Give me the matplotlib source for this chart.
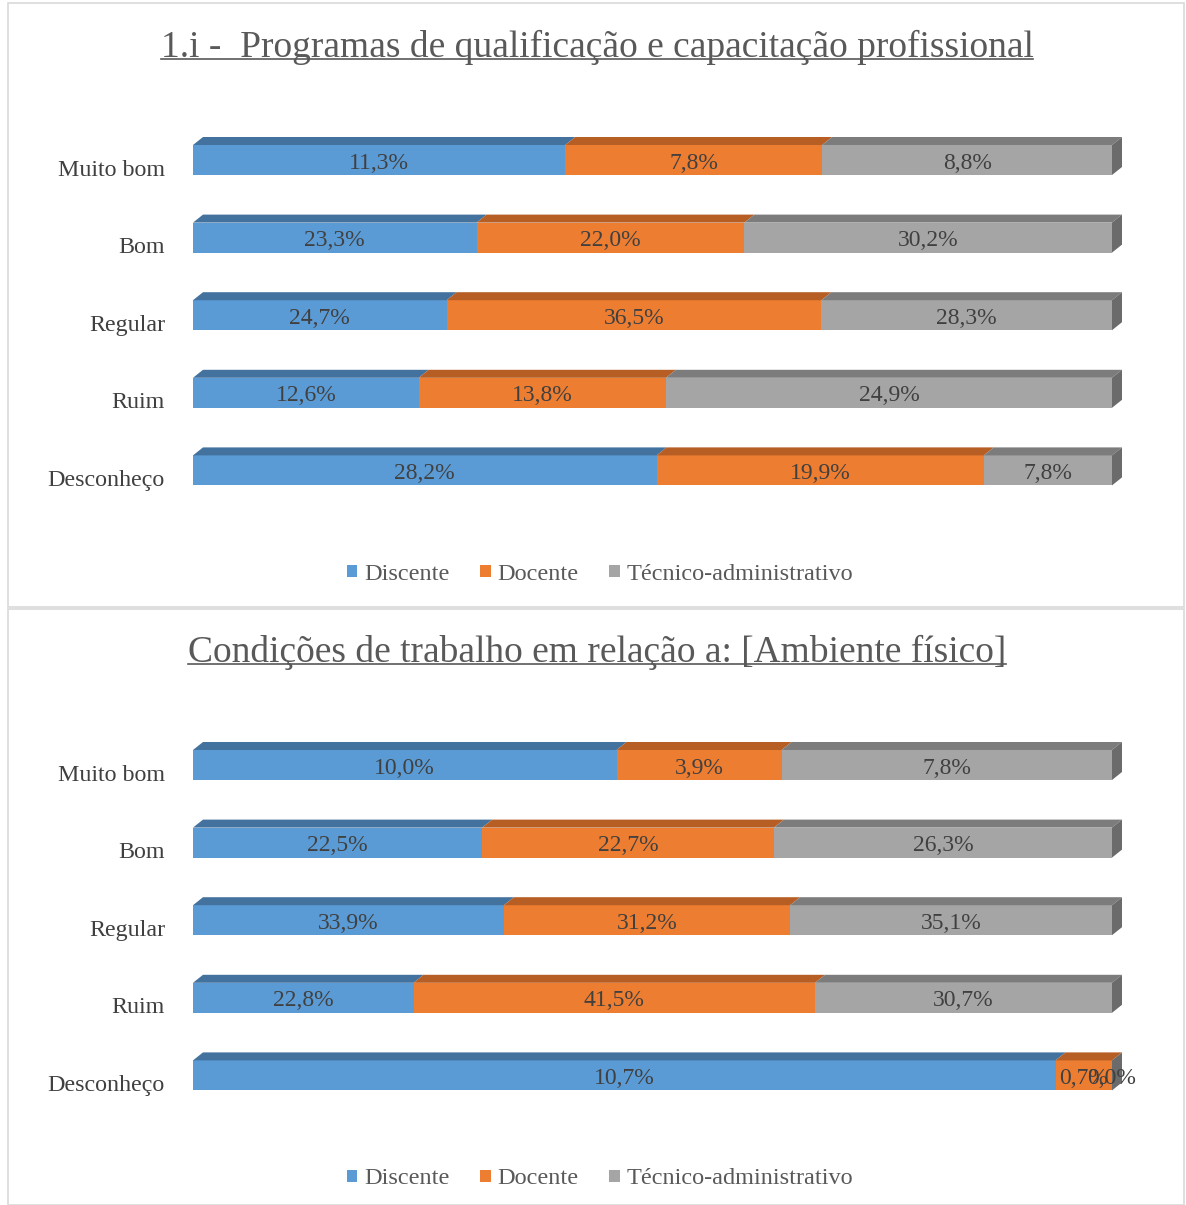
import matplotlib.pyplot as plt
from matplotlib.patches import Polygon, Rectangle, Patch
from matplotlib.lines import Line2D

categorias = ["Muito bom", "Bom", "Regular", "Ruim", "Desconheço"]
series = ["Discente", "Docente", "Técnico-administrativo"]

titulo_qualificacao = "1.i -  Programas de qualificação e capacitação profissional"
qualificacao_discente = [11.3, 23.3, 24.7, 12.6, 28.2]
qualificacao_docente = [7.8, 22.0, 36.5, 13.8, 19.9]
qualificacao_tecnico = [8.8, 30.2, 28.3, 24.9, 7.8]

titulo_ambiente = "Condições de trabalho em relação a: [Ambiente físico]"
ambiente_discente = [10.0, 22.5, 33.9, 22.8, 10.7]
ambiente_docente = [3.9, 22.7, 31.2, 41.5, 0.7]
ambiente_tecnico = [7.8, 26.3, 35.1, 30.7, 0.0]

cores = ["#5B9BD5", "#ED7D31", "#A5A5A5"]
cores_topo = ["#44729E", "#B65E24", "#7C7C7C"]
cor_lado = "#6B6B6B"
FONTE = "Liberation Serif"
W, H = 1186, 1205

fig = plt.figure(figsize=(W / 100, H / 100), dpi=100)


def px_box(x0, y0, x1, y1):
    # pixel box (top-left origin) -> figure fraction [left, bottom, width, height]
    return [x0 / W, 1 - y1 / H, (x1 - x0) / W, (y1 - y0) / H]


def painel(y_top, y_bot, titulo, y_titulo, centro_barras, y_legenda, valores):
    fig.add_artist(Rectangle((8 / W, 1 - y_bot / H), (1184 - 8) / W, (y_bot - y_top) / H,
                             transform=fig.transFigure, fill=False,
                             edgecolor="#D9D9D9", linewidth=1.2))

    t = fig.text(597 / W, 1 - y_titulo / H, titulo, ha="center", va="center",
                 fontsize=27, color="#595959", family=FONTE)

    passo = 77.6
    ax = fig.add_axes(px_box(193, centro_barras - passo / 2, 1112,
                             centro_barras + passo * 4.5))
    ax.set_xlim(0, 1)
    ax.set_ylim(4.5, -0.5)
    ax.axis("off")

    h = 30 / passo
    dy = 8 / passo
    dx = 10 / 919

    for i, cat in enumerate(categorias):
        vals = [v[i] for v in valores]
        total = sum(vals)
        left = 0.0
        for j, v in enumerate(vals):
            w = v / total
            ax.barh(i, w, left=left, height=h, color=cores[j], linewidth=0)
            topo = i - h / 2
            ax.add_patch(Polygon([(left, topo), (left + dx, topo - dy),
                                  (left + w + dx, topo - dy), (left + w, topo)],
                                 closed=True, facecolor=cores_topo[j],
                                 linewidth=0, clip_on=False))
            ax.text(left + w / 2, i + 0.04, f"{v:.1f}".replace(".", ",") + "%",
                    ha="center", va="center", fontsize=17, color="#404040",
                    family=FONTE, clip_on=False)
            left += w
        ax.add_patch(Polygon([(1, i - h / 2), (1 + dx, i - h / 2 - dy),
                              (1 + dx, i + h / 2 - dy), (1, i + h / 2)],
                             closed=True, facecolor=cor_lado, linewidth=0,
                             clip_on=False))
        ax.text(-28 / 919, i + 0.13, cat, ha="right", va="center", fontsize=17.3,
                color="#404040", family=FONTE)

    handles = [Patch(facecolor=c, edgecolor="none") for c in cores]
    fig.legend(handles, series, loc="center", ncol=3,
               bbox_to_anchor=(600 / W, 1 - y_legenda / H), frameon=False,
               prop={"family": FONTE, "size": 17.5}, labelcolor="#595959",
               handlelength=0.42, handleheight=0.42, handletextpad=0.28,
               columnspacing=1.27)
    return t


titulos = [
    painel(3, 607, titulo_qualificacao, 47, 160, 574,
           [qualificacao_discente, qualificacao_docente, qualificacao_tecnico]),
    painel(609, 1205, titulo_ambiente, 652, 765, 1179,
           [ambiente_discente, ambiente_docente, ambiente_tecnico]),
]

# sublinhado dos títulos
fig.canvas.draw()
renderer = fig.canvas.get_renderer()
for t in titulos:
    bb = t.get_window_extent(renderer)
    yb = bb.y0 + 0.16 * bb.height
    fig.add_artist(Line2D([bb.x0 / W, bb.x1 / W], [yb / H, yb / H],
                          transform=fig.transFigure, color="#595959", linewidth=1.2))

fig.savefig("out.png", dpi=100)
